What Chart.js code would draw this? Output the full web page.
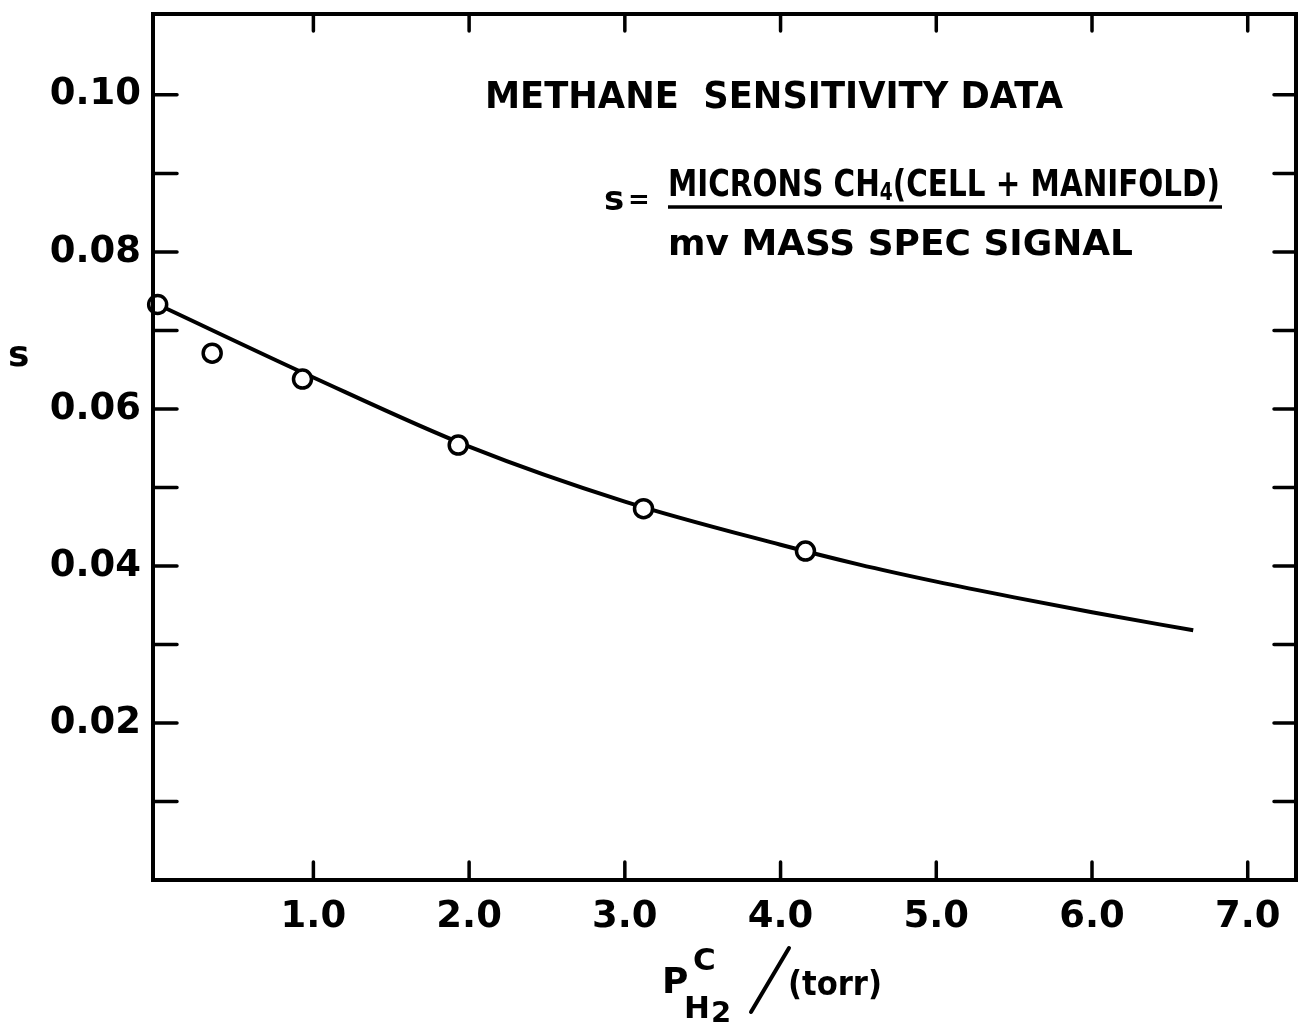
<!DOCTYPE html>
<html>
<head>
<meta charset="utf-8">
<script src="https://cdn.jsdelivr.net/npm/chart.js@4.4.1/dist/chart.umd.min.js"></script>
<style>
  html, body { margin: 0; padding: 0; background: #fff; }
  canvas { display: block; }
</style>
</head>
<body>
<canvas id="chart" width="1302" height="1024"></canvas>
<script>
// Measured sensitivity points: hydrogen pressure (torr) vs s
const pressure = [0, 0.35, 0.93, 1.93, 3.12, 4.16];
const sensitivity = [0.0733, 0.0671, 0.0638, 0.0554, 0.0473, 0.0419];

// Smooth fitted curve, sampled along its length
const curveX = [0, 1.0, 2.0, 3.0, 4.0, 4.5, 5.0, 5.5, 6.0, 6.65];
const curveY = [0.0733, 0.0640, 0.0552, 0.0482, 0.0427, 0.0402, 0.0380, 0.0360, 0.0341, 0.0318];

// Axis ranges and tick spacing
const xRange = [-0.03, 7.31];
const yRange = [0, 0.1103];
const xStep = 1;
const yStep = 0.01;
const yLabelled = [0.02, 0.04, 0.06, 0.08, 0.10];

const FONT = "'DejaVu Sans', sans-serif";

// Inward tick marks on all four sides plus the closed frame
const frameTicks = {
  id: 'frameTicks',
  afterDraw(chart) {
    const { ctx, chartArea: a, scales: { x, y } } = chart;
    ctx.save();
    ctx.strokeStyle = '#000';
    ctx.lineWidth = 4;
    ctx.lineCap = 'round';
    ctx.strokeRect(a.left, a.top, a.right - a.left, a.bottom - a.top);
    ctx.lineWidth = 3.5;
    y.ticks.forEach(t => {
      if (t.value <= 0 || t.value > 0.1001) return;
      const py = y.getPixelForValue(t.value);
      ctx.beginPath();
      ctx.moveTo(a.left, py); ctx.lineTo(a.left + 24, py);
      ctx.moveTo(a.right, py); ctx.lineTo(a.right - 22, py);
      ctx.stroke();
    });
    x.ticks.forEach(t => {
      if (t.value <= 0) return;
      const px = x.getPixelForValue(t.value);
      ctx.beginPath();
      ctx.moveTo(px, a.bottom); ctx.lineTo(px, a.bottom - 18);
      ctx.moveTo(px, a.top); ctx.lineTo(px, a.top + 17);
      ctx.stroke();
    });
    ctx.restore();
  }
};

// Text drawn in run: pieces of [text, size, dy]
function drawRun(ctx, pieces, x, y, targetWidth) {
  let total = 0;
  pieces.forEach(p => { ctx.font = `bold ${p[1]}px ${FONT}`; total += ctx.measureText(p[0]).width; });
  const sx = targetWidth ? targetWidth / total : 1;
  ctx.save();
  ctx.translate(x, y);
  ctx.scale(sx, 1);
  let cx = 0;
  pieces.forEach(p => {
    ctx.font = `bold ${p[1]}px ${FONT}`;
    ctx.fillText(p[0], cx, p[2] || 0);
    cx += ctx.measureText(p[0]).width;
  });
  ctx.restore();
}

const annotations = {
  id: 'annotations',
  afterDraw(chart) {
    const ctx = chart.ctx;
    ctx.save();
    ctx.fillStyle = '#000';
    ctx.strokeStyle = '#000';
    ctx.textBaseline = 'alphabetic';
    ctx.textAlign = 'left';

    // Title
    drawRun(ctx, [['METHANE  SENSITIVITY DATA', 37]], 485, 108, 578);

    // Definition of s
    drawRun(ctx, [['s', 34]], 604, 210);
    drawRun(ctx, [['=', 26]], 628, 208);
    drawRun(ctx, [['MICRONS CH', 38], ['4', 24, 4], ['(CELL + MANIFOLD)', 38]], 668, 196, 552);
    ctx.lineWidth = 3.5;
    ctx.beginPath();
    ctx.moveTo(668, 207); ctx.lineTo(1222, 207);
    ctx.stroke();
    drawRun(ctx, [['mv MASS SPEC SIGNAL', 36]], 668, 255, 465);

    // Axis titles
    drawRun(ctx, [['s', 36]], 8, 366);
    drawRun(ctx, [['P', 36]], 662, 993);
    drawRun(ctx, [['C', 31]], 693, 970);
    drawRun(ctx, [['H', 31]], 684, 1018);
    drawRun(ctx, [['2', 29]], 711, 1022);
    ctx.lineWidth = 4;
    ctx.lineCap = 'round';
    ctx.beginPath();
    ctx.moveTo(751, 1012); ctx.lineTo(789, 948);
    ctx.stroke();
    drawRun(ctx, [['(torr)', 33]], 788, 995, 94);
    ctx.restore();
  }
};

new Chart(document.getElementById('chart'), {
  type: 'scatter',
  data: {
    datasets: [
      {
        label: 'measured',
        data: pressure.map((p, i) => ({ x: p, y: sensitivity[i] })),
        showLine: false,
        pointRadius: 9,
        pointBorderWidth: 3.5,
        pointBackgroundColor: '#fff',
        pointBorderColor: '#000',
        clip: false,
        order: 0
      },
      {
        label: 'fit',
        data: curveX.map((p, i) => ({ x: p, y: curveY[i] })),
        showLine: true,
        borderColor: '#000',
        borderWidth: 4,
        pointRadius: 0,
        cubicInterpolationMode: 'monotone',
        fill: false,
        order: 1
      }
    ]
  },
  options: {
    responsive: false,
    animation: false,
    layout: { padding: { top: 14, right: 0, left: 0, bottom: 0 } },
    plugins: { legend: { display: false }, tooltip: { enabled: false } },
    scales: {
      x: {
        type: 'linear',
        min: xRange[0],
        max: xRange[1],
        grid: { display: false, drawTicks: false },
        border: { display: false },
        ticks: {
          stepSize: xStep,
          includeBounds: false,
          autoSkip: false,
          maxRotation: 0,
          padding: 15,
          color: '#000',
          font: { family: FONT, size: 37, weight: 'bold' },
          callback: v => (v > 0 ? v.toFixed(1) : '')
        },
        afterFit: s => { s.height = 144; s.paddingLeft = 0; s.paddingRight = 0; }
      },
      y: {
        type: 'linear',
        min: yRange[0],
        max: yRange[1],
        grid: { display: false, drawTicks: false },
        border: { display: false },
        ticks: {
          stepSize: yStep,
          includeBounds: false,
          autoSkip: false,
          padding: 12,
          color: '#000',
          font: { family: FONT, size: 37, weight: 'bold' },
          callback: v => (yLabelled.some(l => Math.abs(l - v) < 1e-6) ? v.toFixed(2) : '')
        },
        afterFit: s => { s.width = 153; s.paddingTop = 0; s.paddingBottom = 0; }
      }
    }
  },
  plugins: [frameTicks, annotations, {
    // pin the plot area's right edge
    id: 'pinRight',
    afterLayout(chart) {
      const a = chart.chartArea;
      const target = 1296;
      if (Math.abs(a.right - target) > 0.5) {
        const x = chart.scales.x;
        a.right = target;
        a.width = a.right - a.left;
        x.right = target;
        x.width = x.right - x.left;
        x.configure();
      }
    }
  }]
});
</script>
</body>
</html>
